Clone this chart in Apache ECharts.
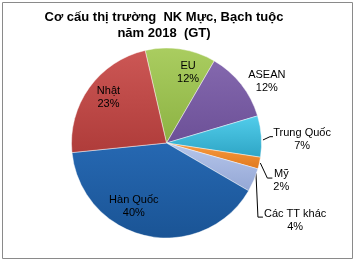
<!DOCTYPE html>
<html><head><meta charset="utf-8">
<script src="https://cdn.jsdelivr.net/npm/echarts@6/dist/echarts.min.js"></script>
<style>html,body{margin:0;padding:0;background:#fff}#c{width:355px;height:262px}</style>
</head><body><div id="c"></div>
<script>
const categories = ['EU', 'ASEAN', 'Trung Quốc', 'Mỹ', 'Các TT khác', 'Hàn Quốc', 'Nhật'];
const shares = [12, 12, 7, 2, 4, 40, 23];
const titleLines = ['Cơ cấu thị trường  NK Mực, Bạch tuộc', 'năm 2018  (GT)'];

const sliceColors = [
  ['#AACD60', '#8CB243'],
  ['#8468AE', '#6C5097'],
  ['#52CDEB', '#2EA5C5'],
  ['#F89B40', '#E0791E'],
  ['#B6C6EB', '#94A7D5'],
  ['#2668B2', '#1A5495'],
  ['#CC5755', '#AF3C3A']
];
// label placement tweaks (style only)
const insideShift = { 0: [14, -21], 6: [-17, -16], 5: [-22, 14] };
const outsidePlace = {
  1: { label: [7, -3] },
  2: { line: [[1.7, 3.6], [8.7, 0.3], [11.7, 0.3]], label: [12, 3.3] },
  3: { line: [[1, 0], [8, 15], [13, 15]], label: [14, 17.5] },
  4: { line: [[2, -7], [4, 37], [9, 37]], label: [10, 40] }
};

const data = categories.map((name, i) => {
  const item = {
    name: name,
    value: shares[i],
    itemStyle: {
      color: { type: 'linear', x: 0, y: 0, x2: 0, y2: 1,
        colorStops: [{ offset: 0, color: sliceColors[i][0] }, { offset: 1, color: sliceColors[i][1] }] }
    }
  };
  if (insideShift[i]) {
    item.label = { position: 'inside' };
    item.labelLine = { show: false };
  } else if (i === 1) {
    item.labelLine = { show: true, lineStyle: { opacity: 0 } };
  }
  return item;
});

const chart = echarts.init(document.getElementById('c'), null, { renderer: 'canvas' });
chart.setOption({
  animation: false,
  backgroundColor: '#fff',
  title: {
    text: titleLines.join('\n'),
    left: 164, top: 9, padding: 0,
    textAlign: 'center',
    textStyle: { fontFamily: 'Liberation Sans', fontSize: 13, fontWeight: 'bold', color: '#000', lineHeight: 16 }
  },
  graphic: [{
    type: 'rect', silent: true, z: -1,
    shape: { x: 2.5, y: 2.5, width: 350, height: 256 },
    style: { fill: 'none', stroke: '#8a8a8a', lineWidth: 1 }
  }],
  series: [{
    type: 'pie',
    center: [166.5, 143],
    radius: [0, 95],
    startAngle: 103,
    clockwise: true,
    avoidLabelOverlap: false,
    percentPrecision: 0,
    itemStyle: { borderColor: 'rgba(255,255,255,0.55)', borderWidth: 0.8 },
    label: {
      show: true,
      position: 'outside',
      formatter: '{c|{b}}\n{c|{d}%}',
      fontFamily: 'Liberation Sans',
      fontSize: 11,
      color: '#000',
      rich: { c: { align: 'center', fontFamily: 'Liberation Sans', fontSize: 11, color: '#000', lineHeight: 13 } }
    },
    labelLine: { show: true, length: 4, length2: 4, lineStyle: { color: '#000', width: 1 } },
    labelLayout: function (p) {
      const i = p.dataIndex;
      const r = p.labelRect;
      if (insideShift[i]) {
        const s = insideShift[i];
        return { x: r.x + r.width / 2 + s[0], y: r.y + r.height / 2 + s[1] };
      }
      const o = outsidePlace[i];
      if (o && p.labelLinePoints) {
        const E = p.labelLinePoints[0];
        const res = { x: E[0] + o.label[0], y: E[1] + o.label[1] };
        res.labelLinePoints = o.line ? o.line.map(d => [E[0] + d[0], E[1] + d[1]]) : [E, E, E];
        return res;
      }
    },
    data: data
  }]
});
</script></body></html>
